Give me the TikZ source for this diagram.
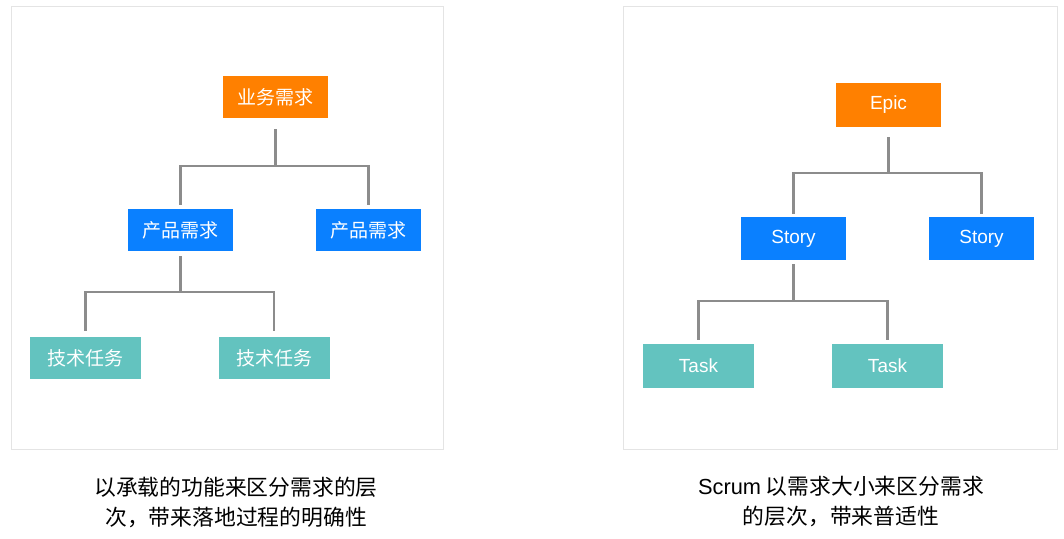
\documentclass[tikz,border=0pt]{standalone}
\usepackage{fontspec}
\setmainfont{Liberation Sans}
\newfontfamily\cjk{Noto Sans CJK SC}
\usetikzlibrary{positioning}
\definecolor{epicorange}{HTML}{FF8000}
\definecolor{storyblue}{HTML}{0A80FF}
\definecolor{taskteal}{HTML}{63C3BF}
\definecolor{linkgray}{HTML}{8C8C8C}
\definecolor{framegray}{HTML}{E4E4E4}

\begin{document}
\begin{tikzpicture}[x=1pt, y=-1pt,
  box/.style={inner sep=0pt, text=white, font=\fontsize{19}{22}\selectfont,
    minimum width=105pt, minimum height=42pt},
  taskbox/.style={box, fill=taskteal, minimum width=111pt},
  link/.style={draw=linkgray, line width=2.6pt},
  frame/.style={draw=framegray, line width=1pt},
  caption/.style={font=\fontsize{21.8}{30}\selectfont\cjk, align=center, text=black}]
  \useasboundingbox[fill=white] (0,0) rectangle (1064,538);
  \draw[frame] (11,6) rectangle (443,449);
  \draw[frame] (623,6) rectangle (1057,449);

  % left: by function
  \node[box, fill=epicorange] (biz) at (275.5,97) {\cjk 业务需求};
  \node[box, fill=storyblue] (prodA) at (180.5,230) {\cjk 产品需求};
  \node[box, fill=storyblue] (prodB) at (368.5,230) {\cjk 产品需求};
  \node[taskbox] (techA) at (85.5,358) {\cjk 技术任务};
  \node[taskbox] (techB) at (274,358) {\cjk 技术任务};
  \foreach \kid in {prodA,prodB}
    \draw[link] ([yshift=-11pt]biz.south) |- ([yshift=43pt]\kid.north) -- ([yshift=4pt]\kid.north);
  \foreach \kid in {techA,techB}
    \draw[link] ([yshift=-5pt]prodA.south) |- ([yshift=45pt]\kid.north) -- ([yshift=6pt]\kid.north);

  % right: scrum
  \node[box, fill=epicorange, minimum height=44pt] (epic) at (888.5,105) {Epic};
  \node[box, fill=storyblue, minimum height=43pt] (storyA) at (793.5,238.5) {Story};
  \node[box, fill=storyblue, minimum height=43pt] (storyB) at (981.5,238.5) {Story};
  \node[taskbox, minimum height=44pt] (taskA) at (698.5,366) {Task};
  \node[taskbox, minimum height=44pt] (taskB) at (887.5,366) {Task};
  \foreach \kid in {storyA,storyB}
    \draw[link] ([yshift=-10pt]epic.south) |- ([yshift=44pt]\kid.north) -- ([yshift=3pt]\kid.north);
  \foreach \kid in {taskA,taskB}
    \draw[link] ([yshift=-4pt]storyA.south) |- ([yshift=43pt]\kid.north) -- ([yshift=4pt]\kid.north);

  \node[caption] (capL) at (236,502) {以承载的功能来区分需求的层\\次，带来落地过程的明确性};
  \node[caption] (capR) at (841,502) {{\rmfamily Scrum} 以需求大小来区分需求\\的层次，带来普适性};
\end{tikzpicture}
\end{document}
